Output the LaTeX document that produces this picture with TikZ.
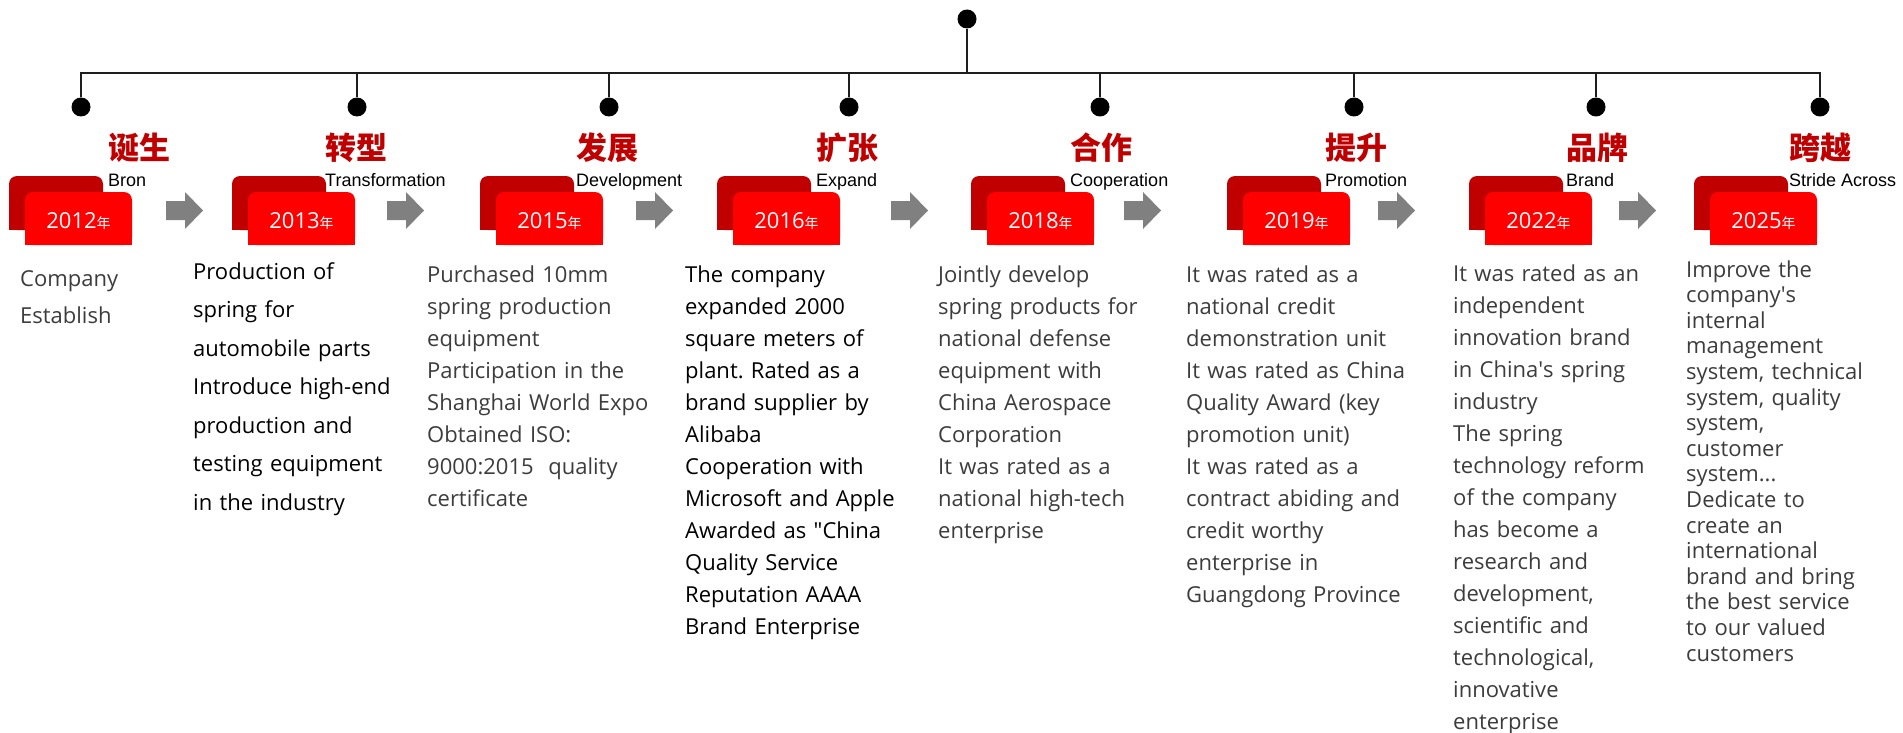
\documentclass[tikz,border=0pt]{standalone}
\usepackage{fontspec}
\setmainfont{Open Sans}
\newfontfamily\arialfont{Liberation Sans}
\newfontfamily\cjk{Noto Sans CJK SC}
\usetikzlibrary{positioning}
\definecolor{boxdark}{HTML}{C00000}
\definecolor{boxred}{HTML}{FF0000}
\definecolor{arrowgrey}{HTML}{808080}
\definecolor{textgrey}{HTML}{3C3C3C}
\definecolor{stemcol}{HTML}{1E1E1E}
\frenchspacing
\begin{document}
\begin{tikzpicture}[x=1pt,y=-1pt,
  dot/.style={circle,fill=black,minimum size=19pt,inner sep=0pt},
  stem/.style={draw=stemcol,line width=1.6pt},
  title/.style={anchor=west,inner sep=0pt,text=boxdark,font=\cjk\bfseries\fontsize{31}{31}\selectfont},
  label/.style={anchor=base west,inner sep=0pt,text=black,font=\arialfont\fontsize{18}{18}\selectfont},
  year/.style={anchor=base,inner sep=0pt,text=white,font=\fontsize{22}{22}\selectfont},
  story/.style={anchor=base west,inner sep=0pt,text width=300pt,align=left,text=textgrey}]
\useasboundingbox (0,0) rectangle (1903,733);

% timeline
\node [dot] (top) at (967,19) {};
\coordinate (bus) at (967,73);
\node [dot] (d1) at (81,107) {};
\node [dot] (d2) at (357,107) {};
\node [dot] (d3) at (609,107) {};
\node [dot] (d4) at (849,107) {};
\node [dot] (d5) at (1100,107) {};
\node [dot] (d6) at (1354,107) {};
\node [dot] (d7) at (1596,107) {};
\node [dot] (d8) at (1820,107) {};
\draw [stem] (top) -- (bus);
\draw [stem] (d1) |- (bus);
\draw [stem] (d2) |- (bus);
\draw [stem] (d3) |- (bus);
\draw [stem] (d4) |- (bus);
\draw [stem] (d5) |- (bus);
\draw [stem] (d6) |- (bus);
\draw [stem] (d7) |- (bus);
\draw [stem] (d8) |- (bus);

% 2012
\fill [boxdark,rounded corners=8pt] (9,176) rectangle ++(94,54);
\fill [boxdark] (9,205) rectangle ++(94,25);
\fill [boxred,rounded corners=8pt] (25,192) rectangle ++(107,53);
\fill [boxred] (25,220) rectangle ++(107,25);
\node [year] (y1) at (78.5,228) {2012{\cjk\fontsize{14}{14}\selectfont 年}};
\node [title] (t1) at (108,148) {诞生};
\node [label] (l1) at (108,186) {Bron};
\fill [arrowgrey] (166,201) -- ++(19,0) -- ++(0,-9) -- ++(18,18.5) -- ++(-18,18.5) -- ++(0,-9) -- ++(-19,0) -- cycle;
\node [story,font=\fontsize{22}{37.5}\selectfont] (s1) at (20,286) {Company\\Establish};

% 2013
\fill [boxdark,rounded corners=8pt] (232,176) rectangle ++(94,54);
\fill [boxdark] (232,205) rectangle ++(94,25);
\fill [boxred,rounded corners=8pt] (248,192) rectangle ++(107,53);
\fill [boxred] (248,220) rectangle ++(107,25);
\node [year] (y2) at (301.5,228) {2013{\cjk\fontsize{14}{14}\selectfont 年}};
\node [title] (t2) at (325,148) {转型};
\node [label] (l2) at (325,186) {Transformation};
\fill [arrowgrey] (387,201) -- ++(19,0) -- ++(0,-9) -- ++(18,18.5) -- ++(-18,18.5) -- ++(0,-9) -- ++(-19,0) -- cycle;
\node [story,text=black,font=\fontsize{22}{38.5}\selectfont] (s2) at (193,279) {Production of\\spring for\\automobile parts\\Introduce high-end\\production and\\testing equipment\\in the industry};

% 2015
\fill [boxdark,rounded corners=8pt] (480,176) rectangle ++(94,54);
\fill [boxdark] (480,205) rectangle ++(94,25);
\fill [boxred,rounded corners=8pt] (496,192) rectangle ++(107,53);
\fill [boxred] (496,220) rectangle ++(107,25);
\node [year] (y3) at (549.5,228) {2015{\cjk\fontsize{14}{14}\selectfont 年}};
\node [title] (t3) at (576,148) {发展};
\node [label] (l3) at (576,186) {Development};
\fill [arrowgrey] (636,201) -- ++(19,0) -- ++(0,-9) -- ++(18,18.5) -- ++(-18,18.5) -- ++(0,-9) -- ++(-19,0) -- cycle;
\node [story,font=\fontsize{22}{32}\selectfont] (s3) at (427,282) {Purchased 10mm\\spring production\\equipment\\Participation in the\\Shanghai World Expo\\Obtained ISO:\\9000:2015\ \ quality\\certificate};

% 2016
\fill [boxdark,rounded corners=8pt] (717,176) rectangle ++(94,54);
\fill [boxdark] (717,205) rectangle ++(94,25);
\fill [boxred,rounded corners=8pt] (733,192) rectangle ++(107,53);
\fill [boxred] (733,220) rectangle ++(107,25);
\node [year] (y4) at (786.5,228) {2016{\cjk\fontsize{14}{14}\selectfont 年}};
\node [title] (t4) at (816,148) {扩张};
\node [label] (l4) at (816,186) {Expand};
\fill [arrowgrey] (891,201) -- ++(19,0) -- ++(0,-9) -- ++(18,18.5) -- ++(-18,18.5) -- ++(0,-9) -- ++(-19,0) -- cycle;
\node [story,text=black,font=\fontsize{22}{32}\selectfont] (s4) at (685,282) {The company\\expanded 2000\\square meters of\\plant. Rated as a\\brand supplier by\\Alibaba\\Cooperation with\\Microsoft and Apple\\Awarded as \textquotedbl China\\Quality Service\\Reputation AAAA\\Brand Enterprise};

% 2018
\fill [boxdark,rounded corners=8pt] (971,176) rectangle ++(94,54);
\fill [boxdark] (971,205) rectangle ++(94,25);
\fill [boxred,rounded corners=8pt] (987,192) rectangle ++(107,53);
\fill [boxred] (987,220) rectangle ++(107,25);
\node [year] (y5) at (1040.5,228) {2018{\cjk\fontsize{14}{14}\selectfont 年}};
\node [title] (t5) at (1070,148) {合作};
\node [label] (l5) at (1070,186) {Cooperation};
\fill [arrowgrey] (1124,201) -- ++(19,0) -- ++(0,-9) -- ++(18,18.5) -- ++(-18,18.5) -- ++(0,-9) -- ++(-19,0) -- cycle;
\node [story,font=\fontsize{22}{32}\selectfont] (s5) at (938,282) {Jointly develop\\spring products for\\national defense\\equipment with\\China Aerospace\\Corporation\\It was rated as a\\national high-tech\\enterprise};

% 2019
\fill [boxdark,rounded corners=8pt] (1227,176) rectangle ++(94,54);
\fill [boxdark] (1227,205) rectangle ++(94,25);
\fill [boxred,rounded corners=8pt] (1243,192) rectangle ++(107,53);
\fill [boxred] (1243,220) rectangle ++(107,25);
\node [year] (y6) at (1296.5,228) {2019{\cjk\fontsize{14}{14}\selectfont 年}};
\node [title] (t6) at (1325,148) {提升};
\node [label] (l6) at (1325,186) {Promotion};
\fill [arrowgrey] (1378,201) -- ++(19,0) -- ++(0,-9) -- ++(18,18.5) -- ++(-18,18.5) -- ++(0,-9) -- ++(-19,0) -- cycle;
\node [story,font=\fontsize{22}{32}\selectfont] (s6) at (1186,282) {It was rated as a\\national credit\\demonstration unit\\It was rated as China\\Quality Award (key\\promotion unit)\\It was rated as a\\contract abiding and\\credit worthy\\enterprise in\\Guangdong Province};

% 2022
\fill [boxdark,rounded corners=8pt] (1469,176) rectangle ++(94,54);
\fill [boxdark] (1469,205) rectangle ++(94,25);
\fill [boxred,rounded corners=8pt] (1485,192) rectangle ++(107,53);
\fill [boxred] (1485,220) rectangle ++(107,25);
\node [year] (y7) at (1538.5,228) {2022{\cjk\fontsize{14}{14}\selectfont 年}};
\node [title] (t7) at (1566,148) {品牌};
\node [label] (l7) at (1566,186) {Brand};
\fill [arrowgrey] (1619,201) -- ++(19,0) -- ++(0,-9) -- ++(18,18.5) -- ++(-18,18.5) -- ++(0,-9) -- ++(-19,0) -- cycle;
\node [story,font=\fontsize{22}{32}\selectfont] (s7) at (1453,281) {It was rated as an\\independent\\innovation brand\\in China\textquotesingle s spring\\industry\\The spring\\technology reform\\of the company\\has become a\\research and\\development,\\scientific and\\technological,\\innovative\\enterprise};

% 2025
\fill [boxdark,rounded corners=8pt] (1694,176) rectangle ++(94,54);
\fill [boxdark] (1694,205) rectangle ++(94,25);
\fill [boxred,rounded corners=8pt] (1710,192) rectangle ++(107,53);
\fill [boxred] (1710,220) rectangle ++(107,25);
\node [year] (y8) at (1763.5,228) {2025{\cjk\fontsize{14}{14}\selectfont 年}};
\node [title] (t8) at (1789,148) {跨越};
\node [label] (l8) at (1789,186) {Stride Across};
\node [story,font=\fontsize{22}{25.6}\selectfont] (s8) at (1686,277) {Improve the\\company\textquotesingle s\\internal\\management\\system, technical\\system, quality\\system,\\customer\\system...\\Dedicate to\\create an\\international\\brand and bring\\the best service\\to our valued\\customers};
\end{tikzpicture}
\end{document}
